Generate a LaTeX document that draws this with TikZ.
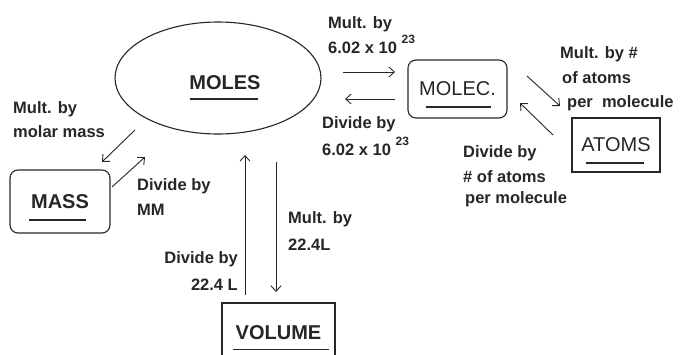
\documentclass[tikz,border=0pt]{standalone}
\usepackage{fontspec}
\setmainfont{Liberation Sans}
\usetikzlibrary{arrows.meta,shapes.geometric}
\definecolor{ink}{HTML}{262626}
\newcommand\sciexp{6.02 x 10 \raisebox{10pt}{\fontsize{12}{12}\selectfont 23}}
\begin{document}
\begin{tikzpicture}[x=1pt,y=-1pt,
  box/.style={draw=ink, line width=1.1pt, text=ink, inner sep=0pt, font=\fontsize{20}{24}\selectfont},
  boxb/.style={box, font=\bfseries\fontsize{20}{24}\selectfont},
  lbl/.style={anchor=base west, inner sep=0pt, text=ink, font=\bfseries\fontsize{16.5}{20}\selectfont},
  lblr/.style={lbl, anchor=base east},
  arr/.style={draw=ink, line width=0.9pt, -{Straight Barb[length=5.5pt,width=10pt]}},
  uline/.style={draw=ink, line width=1.1pt}]
\useasboundingbox (0,0) rectangle (690,354);

% main shapes
\node[ellipse, draw=ink, line width=1.1pt, minimum width=206pt, minimum height=112pt] (moles) at (218,78) {};
\node[text=ink, inner sep=0pt, font=\bfseries\fontsize{20}{24}\selectfont] (molestxt) at (225,82.5) {MOLES};
\node[box, rounded corners=8pt, minimum width=99pt, minimum height=58pt] (molec) at (457.5,89) {MOLEC.};
\node[box, minimum width=88pt, minimum height=54pt] (atoms) at (616,145) {ATOMS};
\node[boxb, rounded corners=8pt, minimum width=100pt, minimum height=63pt] (mass) at (60,201.5) {MASS};
\node[boxb, minimum width=113pt, minimum height=59pt] (volume) at (278.5,332.5) {VOLUME};

% underlines
\draw[uline] ([xshift=-35pt,yshift=-16.5pt]molestxt.center) -- ++(68,0);
\draw[uline] ([xshift=-32pt,yshift=-18pt]molec.center) -- ++(65,0);
\draw[uline] ([xshift=-30pt,yshift=-18pt]atoms.center) -- ++(58,0);
\draw[uline] ([xshift=-31pt,yshift=-18.5pt]mass.center) -- ++(57,0);
\draw[uline] ([xshift=-46pt,yshift=-17pt]volume.center) -- ++(96,0);

% connector end points
\coordinate (a1s) at (343,72);  \coordinate (a1e) at (395,72);
\coordinate (a2s) at (395,99);  \coordinate (a2e) at (345,99);
\coordinate (a3s) at (527,76);  \coordinate (a3e) at (560,106);
\coordinate (a4s) at (553,135); \coordinate (a4e) at (520,103);
\coordinate (a5s) at (135,130); \coordinate (a5e) at (102,162);
\coordinate (a6s) at (112,187); \coordinate (a6e) at (145,157);
\coordinate (a7s) at (245,295); \coordinate (a7e) at (245,155);
\coordinate (a8s) at (276,162); \coordinate (a8e) at (276,292);

\draw[arr] (a1s) -- (a1e);
\draw[arr] (a2s) -- (a2e);
\draw[arr] (a3s) -- (a3e);
\draw[arr] (a4s) -- (a4e);
\draw[arr] (a5s) -- (a5e);
\draw[arr] (a6s) -- (a6e);
\draw[arr] (a7s) -- (a7e);
\draw[arr] (a8s) -- (a8e);

% labels
\node[lbl] (t1a) at (328,28) {Mult. by};
\node[lbl] (t1b) at (328,53) {\sciexp};
\node[lbl] (t2a) at (322,128) {Divide by};
\node[lbl] (t2b) at (322,155) {\sciexp};
\node[lbl] (t3a) at (560,58) {Mult. by \#};
\node[lbl] (t3b) at (562,83) {of atoms};
\node[lbl] (t3c) at (567,107) {per\ \ molecule};
\node[lbl] (t4a) at (463,157) {Divide by};
\node[lbl] (t4b) at (463,182) {\# of atoms};
\node[lbl] (t4c) at (465,203) {per molecule};
\node[lbl] (t5a) at (13,113) {Mult. by};
\node[lbl] (t5b) at (13,137) {molar mass};
\node[lbl] (t6a) at (137,190) {Divide by};
\node[lbl] (t6b) at (137,215) {MM};
\node[lbl] (t7a) at (288,223) {Mult. by};
\node[lbl] (t7b) at (288,250) {22.4L};
\node[lblr] (t8a) at (238,263) {Divide by};
\node[lblr] (t8b) at (238,290) {22.4 L};
\end{tikzpicture}
\end{document}
